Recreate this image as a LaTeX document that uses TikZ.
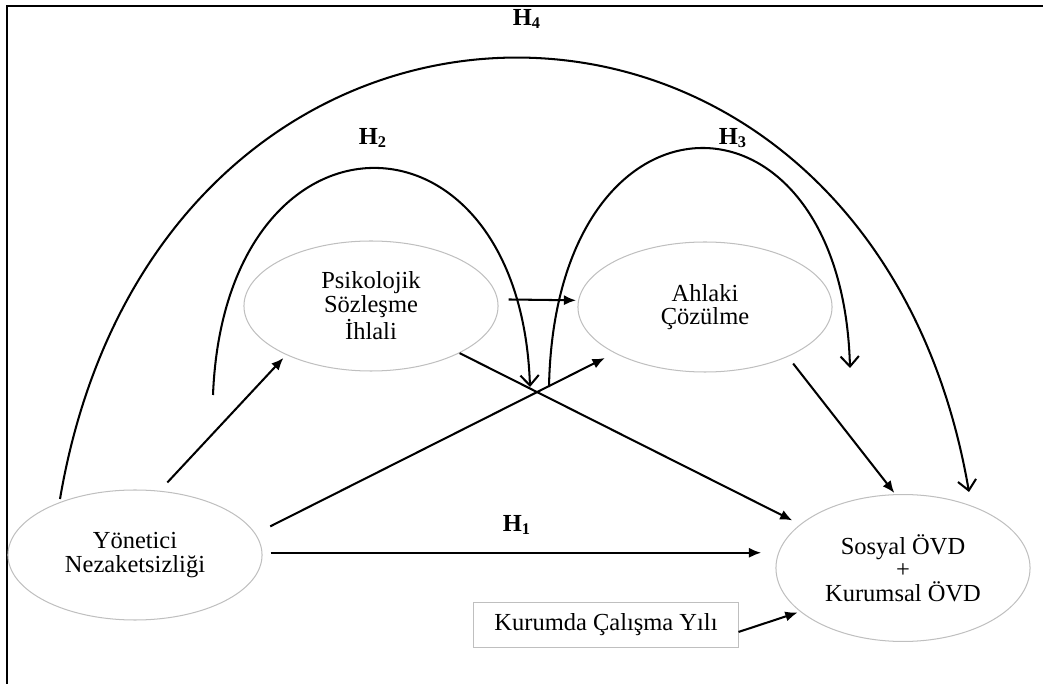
\documentclass[tikz,border=0pt]{standalone}
\usepackage{fontspec}
\setmainfont{Liberation Serif}
\usetikzlibrary{shapes.geometric, arrows.meta, positioning}

\begin{document}
\begin{tikzpicture}[x=0.49pt, y=-0.49pt,
    font=\fontsize{12}{11.6}\selectfont,
    degisken/.style={ellipse, draw=gray!50, line width=0.5pt, minimum width=124.5pt, minimum height=63.7pt, inner sep=0pt, align=center},
    kontrol/.style={rectangle, draw=gray!50, line width=0.5pt, minimum width=129.4pt, minimum height=22.5pt, inner sep=0pt},
    ok/.style={-{Latex[length=6pt,width=5pt]}, line width=1pt},
    yay/.style={-{Straight Barb[length=5pt,width=9pt]}, line width=1pt},
    hip/.style={font=\fontsize{12}{14}\selectfont\bfseries}]
    \useasboundingbox (0,0) rectangle (1043,684);

    % Frame
    \draw[line width=1pt] (1043,6) -- (7,6) -- (7,684);

    % Variables
    \node[degisken] (yon) at (135,555) {Yönetici\\Nezaketsizliği};
    \node[degisken] (psi) at (371,306) {Psikolojik\\Sözleşme\\İhlali};
    \node[degisken] (ahl) at (705,307) {Ahlaki\\Çözülme};
    \node[degisken, minimum height=72pt] (sos) at (903,568) {Sosyal ÖVD\\+\\Kurumsal ÖVD};
    \node[kontrol] (kurum) at (606,625) {Kurumda Çalışma Yılı};

    % Direct paths
    \draw[ok, shorten <=5.5pt, shorten >=2pt] (yon.69) -- (psi.210);
    \draw[ok, shorten <=8pt, shorten >=5.3pt] (yon.10) -- (ahl.207);
    \draw[ok, shorten <=4pt, shorten >=7pt] (yon.1) -- (yon.1 -| sos.west);
    \draw[ok, shorten >=4.2pt] (psi.332) -- (sos.157);
    \draw[ok, shorten <=4.2pt, shorten >=0.7pt] (ahl.329) -- (sos.96);
    \draw[ok, shorten <=5.3pt, shorten >=1pt] (psi.3) -- (ahl.177);
    \draw[ok, shorten >=1.3pt] (kurum.-3.5) -- (sos.203);

    % Hypothesis arcs
    \coordinate (h2bas) at (213,395);
    \coordinate (h2son) at (530,387);
    \coordinate (h3bas) at (549,387);
    \coordinate (h3son) at (850,368);
    \coordinate (h4bas) at (60,499);
    \coordinate (h4son) at (969,492);
    \draw[yay] (h2bas) .. controls (225,94) and (520,94) .. (h2son);
    \draw[yay] (h3bas) .. controls (555,72) and (842,72) .. (h3son);
    \draw[yay] (h4bas) .. controls (160,-88) and (869,-88) .. (h4son);

    % Labels
    \node[hip] (h1) at (517,525) {H\textsubscript{1}};
    \node[hip] (h2) at (373,138) {H\textsubscript{2}};
    \node[hip] (h3) at (733,138) {H\textsubscript{3}};
    \node[hip] (h4) at (527,19) {H\textsubscript{4}};
\end{tikzpicture}
\end{document}
